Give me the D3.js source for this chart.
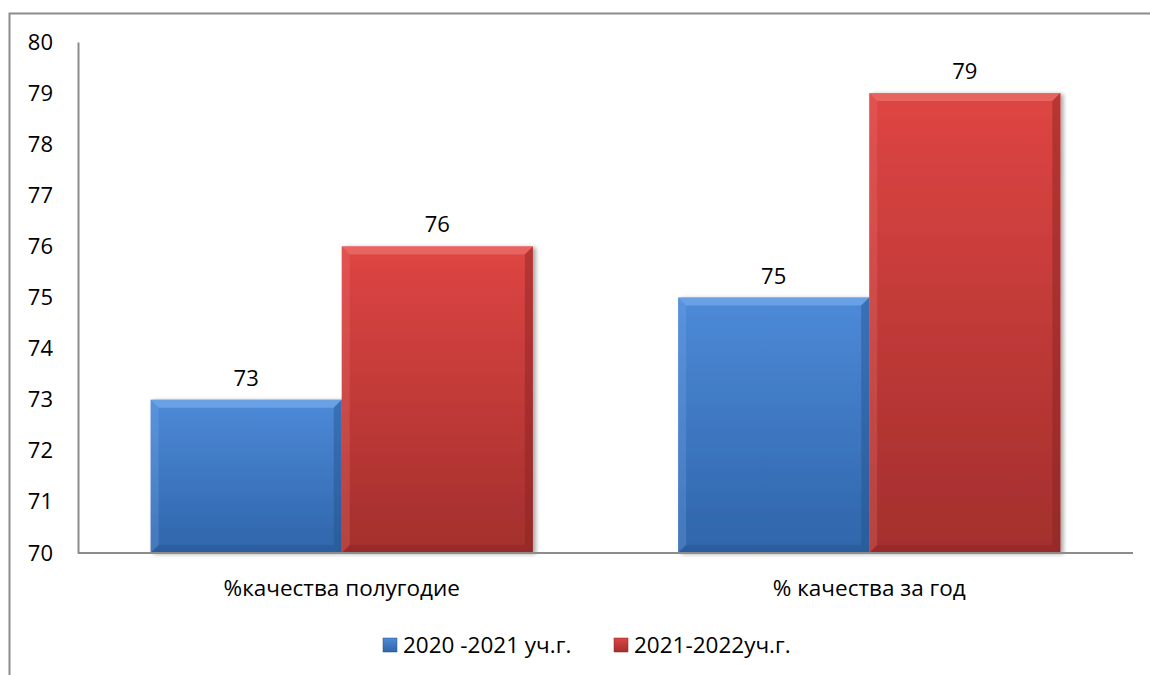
<!DOCTYPE html>
<meta charset="utf-8">
<style>
body { margin: 0; background: #fff; }
text { font-family: "Open Sans", "Noto Sans", sans-serif; fill: #000; }
.tick text { font-size: 22px; }
.cat { font-size: 22.5px; }
.val { font-size: 22px; }
.leg { font-size: 22.5px; }
</style>
<svg width="1150" height="675"></svg>
<script src="https://d3js.org/d3.v7.min.js"></script>
<script>
var categories = ["%качества полугодие", "% качества за год"];
var seriesNames = ["2020 -2021 уч.г.", "2021-2022уч.г."];
var series2020 = [73, 75];
var series2021 = [76, 79];
var yTicks = [70, 71, 72, 73, 74, 75, 76, 77, 78, 79, 80];

var colors = [
  {top: "#4d8ad8", bottom: "#2f65aa", light: "#7fb0ee", dark: "#24528c"},
  {top: "#de4543", bottom: "#a32f2d", light: "#f07a77", dark: "#852422"}
];

var svg = d3.select("svg");
var margin = {top: 42, left: 78, right: 17, bottom: 122};
var width = 1150 - margin.left - margin.right,
    height = 675 - margin.top - margin.bottom;

// outer frame
svg.append("path").attr("d", "M9.5,675 V13.5 H1150")
  .attr("fill", "none").attr("stroke", "#8c8c8c").attr("stroke-width", 2);

var defs = svg.append("defs");
colors.forEach(function(c, i) {
  var gr = defs.append("linearGradient").attr("id", "g" + i)
    .attr("x1", 0).attr("y1", 0).attr("x2", 0).attr("y2", 1);
  gr.append("stop").attr("offset", 0).attr("stop-color", c.top);
  gr.append("stop").attr("offset", 1).attr("stop-color", c.bottom);
});
var flt = defs.append("filter").attr("id", "sh").attr("x", -0.1).attr("y", -0.1).attr("width", 1.3).attr("height", 1.3);
flt.append("feDropShadow").attr("dx", 3).attr("dy", 1).attr("stdDeviation", 2)
  .attr("flood-color", "#000").attr("flood-opacity", 0.35);

var g = svg.append("g").attr("transform", "translate(" + margin.left + "," + margin.top + ")");

var x0 = d3.scaleBand().domain(categories).range([0, width]).paddingInner(0).paddingOuter(0);
var x1 = d3.scaleBand().domain([0, 1]).range([0, x0.bandwidth()]).paddingOuter(0.38).paddingInner(0);
var y = d3.scaleLinear().domain([70, 80]).range([height, 0]);

var yAxis = g.append("g").call(d3.axisLeft(y).tickValues(yTicks).tickSize(0).tickPadding(25));
yAxis.select(".domain").attr("stroke", "#8c8c8c").attr("stroke-width", 2);

var data = [];
categories.forEach(function(cat, ci) {
  [series2020, series2021].forEach(function(s, si) {
    data.push({cat: cat, s: si, v: s[ci]});
  });
});

var bevel = 8;
var bars = g.selectAll(".bar").data(data).enter().append("g").attr("class", "bar")
  .attr("transform", function(d) { return "translate(" + (x0(d.cat) + x1(d.s)) + "," + y(d.v) + ")"; });

bars.each(function(d) {
  var b = d3.select(this);
  var w = x1.bandwidth(), h = height - y(d.v), c = colors[d.s];
  b.append("rect").attr("width", w).attr("height", h)
    .attr("fill", "url(#g" + d.s + ")").attr("filter", "url(#sh)");
  // bevel edges
  b.append("path").attr("d", "M0,0 H" + w + " L" + (w - bevel) + "," + bevel + " H" + bevel + " Z")
    .attr("fill", c.light).attr("opacity", 0.6);
  b.append("path").attr("d", "M0,0 L" + bevel + "," + bevel + " V" + (h - bevel) + " L0," + h + " Z")
    .attr("fill", c.light).attr("opacity", 0.25);
  b.append("path").attr("d", "M" + w + ",0 L" + (w - bevel) + "," + bevel + " V" + (h - bevel) + " L" + w + "," + h + " Z")
    .attr("fill", c.dark).attr("opacity", 0.45);
  b.append("path").attr("d", "M0," + h + " L" + bevel + "," + (h - bevel) + " H" + (w - bevel) + " L" + w + "," + h + " Z")
    .attr("fill", c.dark).attr("opacity", 0.4);
  b.append("text").attr("class", "val").attr("x", w / 2).attr("y", -14)
    .attr("text-anchor", "middle").text(d.v);
});

g.append("line").attr("x1", 0).attr("x2", width).attr("y1", height).attr("y2", height)
  .attr("stroke", "#8c8c8c").attr("stroke-width", 2);

g.selectAll(".cat").data(categories).enter().append("text").attr("class", "cat")
  .attr("x", function(d) { return x0(d) + x0.bandwidth() / 2; })
  .attr("y", height + 43).attr("text-anchor", "middle").text(function(d) { return d; });

var legX = [383, 614];
var leg = svg.selectAll(".legitem").data(seriesNames).enter().append("g")
  .attr("transform", function(d, i) { return "translate(" + legX[i] + ",638)"; });
leg.append("rect").attr("width", 14).attr("height", 14)
  .attr("fill", function(d, i) { return "url(#g" + i + ")"; })
  .attr("stroke", function(d, i) { return colors[i].dark; }).attr("stroke-width", 0.5);
leg.append("text").attr("class", "leg").attr("x", 20).attr("y", 15).text(function(d) { return d; });
</script>
